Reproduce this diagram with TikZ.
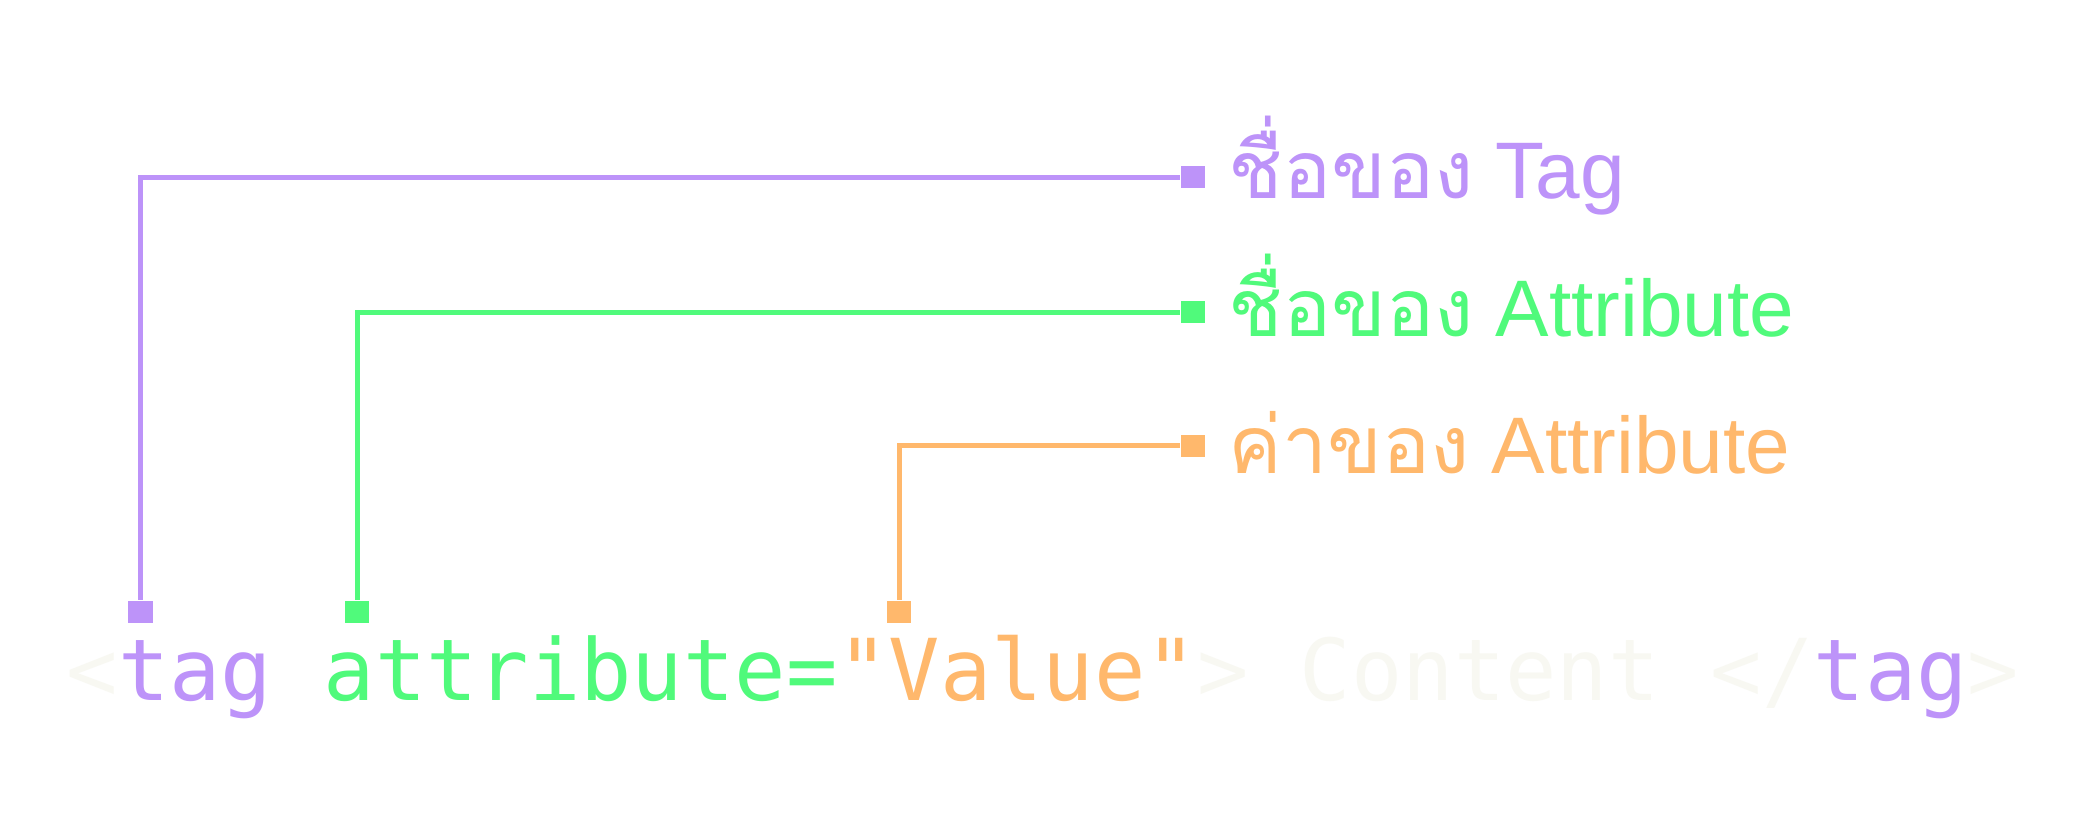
\documentclass[tikz,border=0pt]{standalone}
\usepackage{fontspec}
\setmainfont{Liberation Sans}
\setmonofont{DejaVu Sans Mono}
\newfontfamily\thaifont[Script=Thai]{Loma}
\usetikzlibrary{positioning}
\definecolor{tagpurple}{HTML}{BD93F9}
\definecolor{attrgreen}{HTML}{50FA7B}
\definecolor{valorange}{HTML}{FFB86C}
\definecolor{codefg}{HTML}{F8F8F2}
\tikzset{
  marker/.style={fill=#1, minimum width=0.24cm, minimum height=0.22cm, inner sep=0pt},
  link/.style={draw=#1, line width=0.05cm},
  caption/.style={text=#1, anchor=base west, inner sep=0pt, font=\fontsize{22.8pt}{27pt}\selectfont},
  code/.style={anchor=base west, inner sep=0pt, font=\ttfamily\fontsize{24.27pt}{29pt}\selectfont}
}

\begin{document}
\begin{tikzpicture}[x=0.01cm, y=-0.01cm]
    \fill[white] (0,0) rectangle (2083,833);
    \node[code] (code) at (66,700) {\textcolor{codefg}{<}\textcolor{tagpurple}{tag} \textcolor{attrgreen}{attribute=}\textcolor{valorange}{"Value"}\textcolor{codefg}{> Content </}\textcolor{tagpurple}{tag}\textcolor{codefg}{>}};
    \node[marker=tagpurple] (tagdot) at (140.5,611.5) {};
    \node[marker=attrgreen] (attrdot) at (357,611.5) {};
    \node[marker=valorange] (valdot) at (899,611.5) {};
    \node[marker=tagpurple] (tagend) at (1193,177) {};
    \node[marker=attrgreen] (attrend) at (1193,312) {};
    \node[marker=valorange] (valend) at (1193,445.5) {};
    \node[caption=tagpurple] (taglabel) at (1228,198) {{\thaifont ชื่อของ} Tag};
    \node[caption=attrgreen] (attrlabel) at (1228,336) {{\thaifont ชื่อของ} Attribute};
    \node[caption=valorange] (vallabel) at (1228,473) {{\thaifont ค่าของ} Attribute};
    \draw[link=tagpurple] (tagdot) |- (tagend);
    \draw[link=attrgreen] (attrdot) |- (attrend);
    \draw[link=valorange] (valdot) |- (valend);
  \end{tikzpicture}
\end{document}
